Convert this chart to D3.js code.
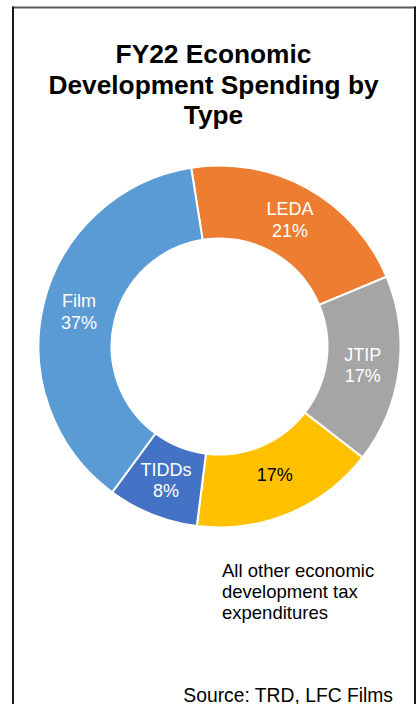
<!DOCTYPE html>
<html>
<head>
<meta charset="utf-8">
<script src="https://cdn.jsdelivr.net/npm/d3@7"></script>
<style>
  body { margin: 0; background: #fff; }
  svg text { font-family: "Liberation Sans", Arial, sans-serif; }
</style>
</head>
<body>
<svg id="chart" width="419" height="704"></svg>
<script>
// chart data, clockwise from just left of 12 o'clock
var categories = ["LEDA", "JTIP", "Other", "TIDDs", "Film"];
var sliceLabels = ["LEDA", "JTIP", "", "TIDDs", "Film"];
var shares = [21.2, 16.8, 16.5, 8.1, 37.4];
var colors = ["#ED7D31", "#A5A5A5", "#FFC000", "#4472C4", "#5B9BD5"];
var titleLines = ["FY22 Economic", "Development Spending by", "Type"];
var noteLines = ["All other economic", "development tax", "expenditures"];
var sourceText = "Source: TRD, LFC Films";

var svg = d3.select("#chart");

// frame
svg.append("line").attr("x1", 12).attr("x2", 416).attr("y1", 7.5).attr("y2", 7.5)
    .attr("stroke", "#595959").attr("stroke-width", 2);
svg.append("line").attr("x1", 13).attr("x2", 13).attr("y1", 6.5).attr("y2", 704)
    .attr("stroke", "#1a1a1a").attr("stroke-width", 2);
svg.append("line").attr("x1", 415).attr("x2", 415).attr("y1", 6.5).attr("y2", 704)
    .attr("stroke", "#1a1a1a").attr("stroke-width", 2);

// title
svg.append("g").selectAll("text")
    .data(titleLines)
    .enter().append("text")
    .attr("x", 213.5)
    .attr("y", function (d, i) { return 63 + i * 30.5; })
    .attr("text-anchor", "middle")
    .attr("font-weight", "bold")
    .attr("font-size", 26.3)
    .attr("fill", "#000")
    .text(function (d) { return d; });

// donut
var cx = 219.5, cy = 346.5, outerR = 181, innerR = 108;
var startA = -9 * Math.PI / 180;

var pie = d3.pie()
    .sort(null)
    .value(function (d) { return d; })
    .startAngle(startA)
    .endAngle(startA + 2 * Math.PI);

var arc = d3.arc().innerRadius(innerR).outerRadius(outerR);

var g = svg.append("g").attr("transform", "translate(" + cx + "," + cy + ")");
var arcs = pie(shares);

g.selectAll("path")
    .data(arcs)
    .enter().append("path")
    .attr("d", arc)
    .attr("fill", function (d, i) { return colors[i]; })
    .attr("stroke", "#fff")
    .attr("stroke-width", 2);

var labels = g.selectAll("text")
    .data(arcs)
    .enter().append("text")
    .attr("text-anchor", "middle")
    .attr("font-size", 18)
    .attr("fill", function (d, i) { return categories[i] === "Other" ? "#000" : "#fff"; })
    .attr("transform", function (d) { return "translate(" + arc.centroid(d) + ")"; });

labels.each(function (d, i) {
    var t = d3.select(this);
    var pct = Math.round(shares[i]) + "%";
    if (sliceLabels[i]) {
        t.append("tspan").attr("x", 0).attr("y", -5).text(sliceLabels[i]);
        t.append("tspan").attr("x", 0).attr("y", 16.5).text(pct);
    } else {
        t.append("tspan").attr("x", 0).attr("y", 1).text(pct);
    }
});

// note under the yellow slice
svg.append("g").selectAll("text")
    .data(noteLines)
    .enter().append("text")
    .attr("x", 222)
    .attr("y", function (d, i) { return 577 + i * 21; })
    .attr("font-size", 18.5)
    .attr("fill", "#000")
    .text(function (d) { return d; });

svg.append("text")
    .attr("x", 393)
    .attr("y", 701.5)
    .attr("text-anchor", "end")
    .attr("font-size", 19.3)
    .attr("fill", "#000")
    .text(sourceText);
</script>
</body>
</html>
